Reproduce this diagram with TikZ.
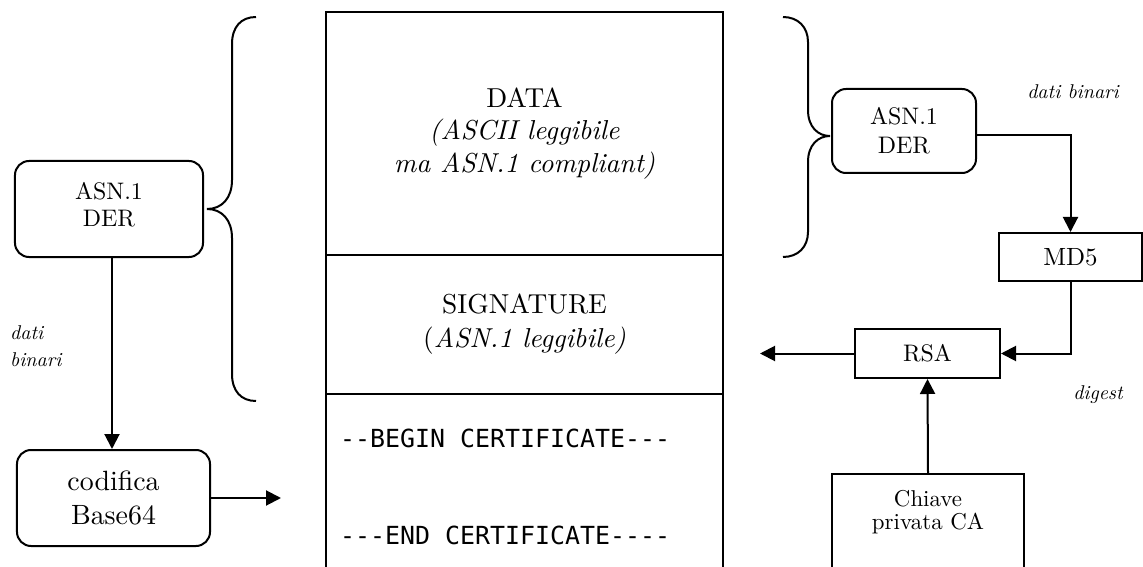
\documentclass[tikz,border=0pt]{standalone}
\usepackage{fontspec}
\setmainfont{lmroman10-regular.otf}[ItalicFont=lmroman10-italic.otf, BoldFont=lmroman10-bold.otf]
\newfontfamily\certmono{DejaVu Sans Mono}
\usetikzlibrary{arrows.meta}
\begin{document}
\begin{tikzpicture}[x=1bp,y=-1bp,
  rbox/.style={draw, line width=2bp, rounded corners=14bp, align=center, inner sep=0pt},
  sbox/.style={draw, line width=2bp, align=center, inner sep=0pt},
  part/.style={draw, line width=2.2bp, minimum width=397bp, align=center, inner sep=0pt},
  arr/.style={line width=2bp, -{Triangle[length=15bp,width=15bp]}},
  lbl/.style={font=\fontsize{20}{27}\selectfont\itshape, inner sep=0pt},
  brace/.style={line width=2bp},
  monotxt/.style={font=\fontsize{25}{30}\selectfont\certmono, anchor=west, inner sep=0pt}
]
\useasboundingbox (0,0) rectangle (1143,567);
\clip (0,0) rectangle (1143,567);

% certificate parts
\node[part, minimum height=243bp, font=\fontsize{27.5}{32.5}\selectfont] (data) at (524.5,133.5)
  {DATA\\\textit{(ASCII leggibile}\\\textit{ma ASN.1 compliant)}};
\node[part, minimum height=139bp, font=\fontsize{27.5}{34}\selectfont] (sig) at (524.5,324.5)
  {SIGNATURE\\(\textit{ASN.1 leggibile)}};
\node[part, minimum height=246bp] (cert) at (524.5,517) {};
\node[monotxt] (begin) at (340,438) {-{}-BEGIN CERTIFICATE-{}-{}-};
\node[monotxt] (end) at (340,535) {-{}-{}-END CERTIFICATE-{}-{}-{}-};

% left side
\node[rbox, minimum width=188bp, minimum height=96bp] (asnL) at (109,209) {};
\node[align=center, inner sep=0pt, font=\fontsize{24}{27}\selectfont] (asnLtxt) at (109,205) {ASN.1\\DER};
\node[rbox, minimum width=193bp, minimum height=96bp, font=\fontsize{28}{35}\selectfont] (codifica) at (113.5,498) {codifica\\Base64};
\node[lbl, anchor=west, align=left] (datiL) at (10,346) {dati\\binari};
\coordinate (codout) at (281,498);
\draw[arr] (asnL.south -| 112,0) -- (codifica.north -| 112,0);
\draw[arr] (codifica.east) -- (codout);

% left brace
\draw[brace] (256,17) .. controls (241,17) and (232,27) .. (232,44)
  -- (232,180) .. controls (232,198) and (222,209) .. (207,209)
  .. controls (222,209) and (232,220) .. (232,238)
  -- (232,374) .. controls (232,391) and (241,401) .. (256,401);

% right side
\node[rbox, minimum width=144bp, minimum height=84bp, font=\fontsize{24}{29}\selectfont] (asnR) at (904,131) {ASN.1\\DER};
\node[sbox, minimum width=143bp, minimum height=48bp, font=\fontsize{25}{28}\selectfont] (md5) at (1070.5,257) {MD5};
\node[sbox, minimum width=145bp, minimum height=49bp, font=\fontsize{24}{26}\selectfont] (rsa) at (927.5,353.5) {RSA};
\node[sbox, minimum width=192bp, minimum height=170bp, anchor=north] (chiave) at (928,473) {};
\node[align=center, inner sep=0pt, font=\fontsize{23}{22.5}\selectfont] (chiavetxt) at (928,512) {Chiave\\privata CA};
\node[lbl] (datiR) at (1073,92) {dati binari};
\node[lbl] (digest) at (1098,395) {digest};
\coordinate (sigout) at (760,353.5);

\draw[arr] ([yshift=-4bp]asnR.east) -| (md5.north);
\draw[arr] (md5.south) |- (rsa.east);
\draw[arr] (chiave.north) -- (rsa.south);
\draw[arr] (rsa.west) -- (sigout);

% right brace
\draw[brace] (783,17) .. controls (798,17) and (808,27) .. (808,42)
  -- (808,110) .. controls (808,127) and (818,136) .. (830,136)
  .. controls (818,136) and (808,145) .. (808,162)
  -- (808,232) .. controls (808,247) and (798,257) .. (783,257);
\end{tikzpicture}
\end{document}
